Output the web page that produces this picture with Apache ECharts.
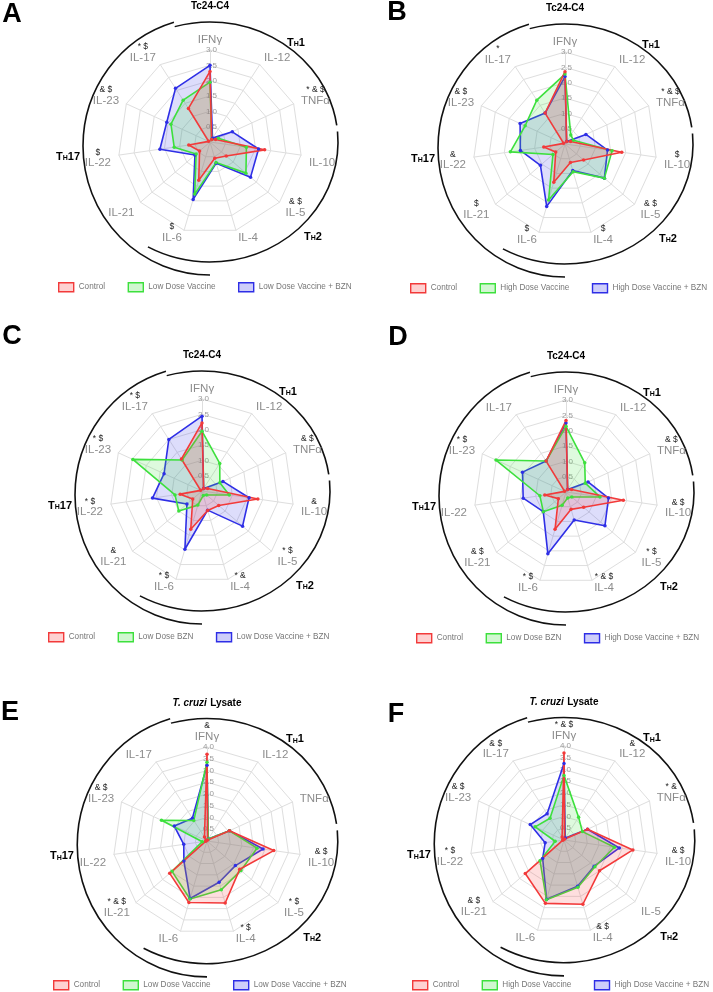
<!DOCTYPE html>
<html><head><meta charset="utf-8">
<script src="https://cdn.jsdelivr.net/npm/echarts@6/dist/echarts.min.js"></script>
<style>html,body{margin:0;padding:0;background:#fff}#c{width:713px;height:992px}</style>
</head><body><div id="c"></div>
<script>
// Axes listed clockwise from the top
const categories = ['IFNγ','IL-12','TNFα','IL-10','IL-5','IL-4','IL-6','IL-21','IL-22','IL-23','IL-17'];

// Series names (legend order: red, green, blue)
const A_names = ['Control','Low Dose Vaccine','Low Dose Vaccine + BZN'];
const B_names = ['Control','High Dose Vaccine','High Dose Vaccine + BZN'];
const C_names = ['Control','Low Dose BZN','Low Dose Vaccine + BZN'];
const D_names = ['Control','Low Dose BZN','High Dose Vaccine + BZN'];
const E_names = ['Control','Low Dose Vaccine','Low Dose Vaccine + BZN'];
const F_names = ['Control','High Dose Vaccine','High Dose Vaccine + BZN'];

// Values (clockwise order as in categories)
const A_red   = [2.30, 0.10, 0.20, 1.80, 0.70, 0.55, 1.30, 0.45, 0.70, 0.05, 1.30];
const A_green = [1.95, 0.10, 0.30, 1.20, 1.55, 0.70, 1.77, 0.60, 1.18, 1.40, 1.62];
const A_blue  = [2.50, 0.15, 0.80, 1.60, 1.75, 0.72, 1.95, 0.65, 1.65, 1.55, 2.08];

const B_red   = [2.36, 0.10, 0.20, 1.87, 0.80, 0.63, 1.30, 0.40, 0.70, 0.05, 1.20];
const B_green = [2.28, 0.35, 0.30, 1.55, 1.70, 0.94, 1.90, 0.52, 1.80, 1.43, 1.70];
const B_blue  = [2.20, 0.10, 0.75, 1.40, 1.70, 0.90, 2.12, 1.06, 1.47, 1.61, 1.20];

const C_red   = [2.22, 0.10, 0.20, 1.84, 0.72, 0.66, 1.30, 0.40, 0.72, 0.05, 1.24];
const C_green = [1.95, 1.07, 0.64, 0.90, 0.20, 0.15, 0.48, 1.00, 0.89, 2.48, 1.20];
const C_blue  = [2.44, 0.10, 0.75, 1.55, 1.75, 0.65, 1.98, 0.65, 1.63, 1.36, 2.00];

const D_red   = [2.33, 0.10, 0.20, 1.89, 0.76, 0.59, 1.27, 0.33, 0.70, 0.05, 1.20];
const D_green = [2.14, 1.13, 0.69, 1.12, 0.25, 0.20, 0.45, 0.98, 0.86, 2.51, 1.20];
const D_blue  = [2.25, 0.10, 0.79, 1.40, 1.68, 0.95, 2.10, 0.98, 1.41, 1.56, 1.20];

const E_red   = [3.69, 0.05, 1.05, 2.87, 1.84, 2.75, 2.73, 2.10, 0.05, 0.05, 0.20];
const E_green = [3.35, 0.10, 1.05, 2.15, 1.91, 2.16, 2.57, 1.97, 0.20, 2.13, 1.04];
const E_blue  = [3.22, 0.10, 1.05, 2.41, 1.60, 1.83, 2.55, 1.30, 1.00, 1.53, 1.15];

const F_red   = [3.70, 0.05, 1.10, 2.96, 2.00, 2.85, 2.81, 2.18, 0.05, 0.05, 0.15];
const F_green = [2.75, 1.15, 0.86, 2.17, 1.74, 2.10, 2.65, 1.35, 0.38, 1.35, 1.10];
const F_blue  = [3.26, 0.10, 1.10, 2.38, 1.70, 2.05, 2.63, 1.20, 0.81, 1.58, 1.33];

// Significance marks (clockwise order as in categories)
const A_marks = ['', '', '* & $', '', '& $', '', '$', '', '$', '& $', '* $'];
const B_marks = ['', '', '* & $', '$', '& $', '$', '$', '$', '&', '& $', '*'];
const C_marks = ['', '', '& $', '&', '* $', '* &', '* $', '&', '* $', '* $', '* $'];
const D_marks = ['', '', '& $', '& $', '* $', '* & $', '* $', '& $', '', '* $', ''];
const E_marks = ['&', '', '', '& $', '* $', '* $', '', '* & $', '', '& $', ''];
const F_marks = ['* & $', '&', '* &', '& $', '', '& $', '', '& $', '* $', '& $', '& $'];

// Axis scale
const ticksTc = [0, 0.5, 1.0, 1.5, 2.0, 2.5, 3.0];
const ticksLy = [0, 0.5, 1.0, 1.5, 2.0, 2.5, 3.0, 3.5, 4.0];

const FONT = 'Liberation Sans';
const lineCol = ['#f23a3a', '#3de03d', '#2e2ee6'];
const fillCol = ['rgba(250,70,70,0.25)', 'rgba(70,225,70,0.25)', 'rgba(60,60,235,0.25)'];
// vertical nudge of the axis names (px, downwards)
const nameShift = {'IL-10': 7, 'IL-22': 7, 'IL-5': 5, 'IL-21': 5};

// ECharts places indicators counter-clockwise; reorder the clockwise lists
const toEc = arr => [arr[0]].concat(arr.slice(1).reverse());

const panels = [
  {letter:'A', cx:210, cy:142, R:92, ticks:ticksTc, title:'Tc24-C4', names:A_names, vals:[A_red,A_green,A_blue], marks:A_marks, lx:12, ly:15, legL:58, legY:287},
  {letter:'B', cx:565, cy:144, R:92, ticks:ticksTc, title:'Tc24-C4', names:B_names, vals:[B_red,B_green,B_blue], marks:B_marks, lx:397, ly:13, legL:410, legY:288},
  {letter:'C', cx:202, cy:491, R:92, ticks:ticksTc, title:'Tc24-C4', names:C_names, vals:[C_red,C_green,C_blue], marks:C_marks, lx:12, ly:337, legL:48, legY:637},
  {letter:'D', cx:566, cy:492, R:92, ticks:ticksTc, title:'Tc24-C4', names:D_names, vals:[D_red,D_green,D_blue], marks:D_marks, lx:398, ly:338, legL:416, legY:638},
  {letter:'E', cx:207, cy:841, R:94, ticks:ticksLy, title:'lysate', names:E_names, vals:[E_red,E_green,E_blue], marks:E_marks, lx:10, ly:713, legL:53, legY:985},
  {letter:'F', cx:564, cy:840, R:94, ticks:ticksLy, title:'lysate', names:F_names, vals:[F_red,F_green,F_blue], marks:F_marks, lx:396, ly:715, legL:412, legY:985}
];

const radars = [], series = [], legends = [], graphics = [];
const D2R = Math.PI / 180;

panels.forEach((p, pi) => {
  const max = p.ticks[p.ticks.length - 1];
  const split = p.ticks.length - 1;
  const markMap = {};
  categories.forEach((c, i) => { markMap[c] = p.marks[i]; });
  const indicator = toEc(categories).map((name, i) => {
    const ind = {name: name, min: 0, max: max};
    if (i === 0) {
      ind.nameGap = -1;
      ind.axisLabel = {show: true, fontSize: 8, color: '#9a9a9a', margin: -7, showMinLabel: false,
        fontFamily: FONT, formatter: v => Number(v).toFixed(1)};
    }
    return ind;
  });
  radars.push({
    center: [p.cx, p.cy], radius: p.R, startAngle: 90, splitNumber: split, shape: 'polygon',
    indicator: indicator, nameGap: 8,
    axisName: {
      fontFamily: FONT,
      formatter: (name) => {
        const m = markMap[name] || '';
        if (name === 'IFNγ') return (m ? '{a|' + m + '}\n' : '') + '{n|' + name + '}';
        const dy = nameShift[name] || 0;
        let ht = 0, hb = 9 - 2 * dy;
        if (hb < 0) { ht = -hb; hb = 0; }
        let s = '';
        if (ht > 0) s += '{t' + Math.round(ht) + '| }\n';
        s += '{a|' + (m || ' ') + '}\n{n|' + name + '}';
        if (hb > 0) s += '\n{t' + Math.round(hb) + '| }';
        return s;
      },
      rich: (() => {
        const r = {
          a: {fontSize: 8.5, color: '#222', align: 'center', lineHeight: 9, fontFamily: FONT},
          n: {fontSize: 11.5, color: '#8c8c8c', align: 'center', lineHeight: 13, fontFamily: FONT}
        };
        for (let h = 1; h <= 12; h++) r['t' + h] = {fontSize: 1, lineHeight: h, align: 'center'};
        return r;
      })()
    },
    splitLine: {lineStyle: {color: '#dedede', width: 1}},
    splitArea: {show: false},
    axisLine: {lineStyle: {color: '#dedede', width: 1}},
    axisTick: {show: false},
    axisLabel: {show: false}
  });
  // draw blue, green, red (red on top)
  const data = [2, 1, 0].map(k => ({
    name: p.names[k], value: toEc(p.vals[k]),
    symbol: 'circle', symbolSize: 3.5,
    lineStyle: {color: lineCol[k], width: 1.6},
    itemStyle: {color: lineCol[k]},
    areaStyle: {color: fillCol[k]}
  }));
  series.push({type: 'radar', radarIndex: pi, data: data, silent: true, z: 2});
  legends.push({
    left: p.legL, top: p.legY - 5, width: 340, padding: 0, itemWidth: 15, itemHeight: 9, itemGap: 22.5, selectedMode: false,
    textStyle: {fontSize: 8.2, color: '#777', fontFamily: FONT},
    data: p.names.map((n, k) => ({name: n, icon: 'rect',
      itemStyle: {color: fillCol[k], borderColor: lineCol[k], borderWidth: 1.4}}))
  });

  const s = p.R / 92;
  graphics.push({type: 'text', x: p.lx, y: p.ly, silent: true,
    style: {text: p.letter, font: 'bold 27px ' + FONT, fill: '#000', align: 'center', verticalAlign: 'middle'}});
  if (p.title === 'lysate') {
    graphics.push({type: 'text', x: p.cx, y: p.cy - 138, silent: true,
      style: {text: '{i|T. cruzi} {b|Lysate}', align: 'center', verticalAlign: 'middle',
        rich: {i: {font: 'italic bold 10px ' + FONT, fill: '#000'}, b: {font: 'bold 10px ' + FONT, fill: '#000'}}}});
  } else {
    graphics.push({type: 'text', x: p.cx, y: p.cy - 136, silent: true,
      style: {text: p.title, font: 'bold 10px ' + FONT, fill: '#000', align: 'center', verticalAlign: 'middle'}});
  }
  const grp = [['1', 86, -101], ['2', 103, 93], ['17', -142, 13]];
  grp.forEach(g => {
    graphics.push({type: 'text', x: p.cx + g[1] * s, y: p.cy + g[2] * s, silent: true,
      style: {text: '{b|T}{s|H}{b|' + g[0] + '}', align: 'center', verticalAlign: 'middle',
        rich: {b: {font: 'bold 11px ' + FONT, fill: '#000', lineHeight: 14, verticalAlign: 'bottom'},
               s: {font: 'bold 7px ' + FONT, fill: '#000', lineHeight: 11, verticalAlign: 'bottom'}}}});
  });
  const arcs = [
    {rx: 128, ry: 120, dy: 0, a0: -106, a1: -8},
    {rx: 128, ry: 120, dy: 0, a0: -5, a1: 119},
    {rx: 127, ry: 129, dy: 4, a0: 90, a1: 253.5}
  ];
  arcs.forEach(a => {
    graphics.push({type: 'arc', x: p.cx, y: p.cy + a.dy * s, scaleY: a.ry / a.rx, silent: true,
      shape: {cx: 0, cy: 0, r: a.rx * s, startAngle: a.a0 * D2R, endAngle: a.a1 * D2R, clockwise: true},
      style: {stroke: '#111', lineWidth: 1.6, fill: null, strokeNoScale: true}});
  });
});

const chart = echarts.init(document.getElementById('c'), null, {renderer: 'canvas'});
chart.setOption({
  animation: false,
  backgroundColor: '#fff',
  textStyle: {fontFamily: FONT},
  radar: radars,
  legend: legends,
  series: series,
  graphic: graphics
});
</script>
</body></html>
